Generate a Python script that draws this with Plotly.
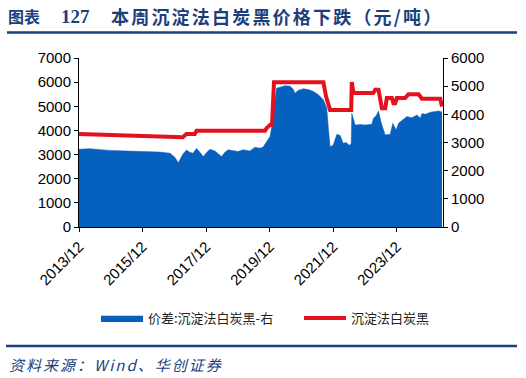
import plotly.graph_objects as go

# ---- data ----
price_dates = ["2013-12-01", "2017-03-08", "2017-04-20", "2017-07-25", "2017-08-14",
               "2019-10-11", "2019-10-30", "2019-12-07", "2019-12-30", "2020-01-22",
               "2021-08-12", "2021-09-12", "2021-10-28", "2022-06-28", "2022-07-05",
               "2022-07-24", "2023-03-08", "2023-03-31", "2023-05-08", "2023-05-27",
               "2023-06-16", "2023-07-24", "2023-08-12", "2023-10-09", "2023-10-27",
               "2023-11-16", "2023-12-05", "2024-03-10", "2024-04-17", "2024-08-11",
               "2024-09-19", "2025-04-17", "2025-05-07"]
price_values = [3850, 3720, 3850, 3850, 3990,
                3990, 4100, 4230, 4230, 6000,
                6000, 5400, 4850, 4850, 6000,
                5550, 5550, 5680, 5680, 5300,
                4920, 4920, 5340, 5340, 5130,
                5130, 5340, 5340, 5500, 5500,
                5310, 5310, 4990]

spread_dates = ["2013-12-01", "2014-04-03", "2014-11-19", "2015-07-07", "2016-02-23",
                "2016-06-18", "2016-10-12", "2016-12-08", "2017-01-15", "2017-02-15",
                "2017-03-13", "2017-04-20", "2017-05-30", "2017-07-03", "2017-08-14",
                "2017-09-22", "2017-10-30", "2017-12-11", "2018-01-15", "2018-03-13",
                "2018-04-28", "2018-05-29", "2018-07-06", "2018-08-13", "2018-10-29",
                "2018-12-03", "2019-02-02", "2019-04-20", "2019-06-17", "2019-08-13",
                "2019-09-17", "2019-10-30", "2019-12-07", "2019-12-30", "2020-01-22",
                "2020-02-22", "2020-05-28", "2020-07-25", "2020-08-28", "2020-09-20",
                "2020-10-25", "2020-12-25", "2021-02-18", "2021-04-20", "2021-06-13",
                "2021-08-12", "2021-09-20", "2021-10-09", "2021-10-28", "2021-12-02",
                "2021-12-25", "2022-01-14", "2022-02-21", "2022-03-27", "2022-05-01",
                "2022-06-05", "2022-06-28", "2022-07-05", "2022-08-12", "2022-10-09",
                "2022-12-05", "2023-02-21", "2023-03-11", "2023-04-11", "2023-05-08",
                "2023-06-08", "2023-07-24", "2023-09-19", "2023-10-20", "2023-11-27",
                "2023-12-24", "2024-02-05", "2024-03-30", "2024-05-27", "2024-07-24",
                "2024-08-31", "2024-09-19", "2024-10-27", "2024-12-24", "2025-02-20",
                "2025-03-30", "2025-05-07"]
spread_values = [2760, 2780, 2720, 2700, 2690,
                 2660, 2620, 2480, 2280, 2450,
                 2600, 2730, 2650, 2620, 2790,
                 2650, 2500, 2650, 2760, 2700,
                 2600, 2500, 2650, 2740, 2700,
                 2680, 2740, 2700, 2830, 2800,
                 2830, 3030, 3210, 3600, 4300,
                 4930, 5015, 5000, 4900, 4750,
                 4850, 4907, 4880, 4810, 4700,
                 4515, 4220, 3500, 2850, 2900,
                 3150, 3290, 3250, 2970, 3000,
                 2900, 2950, 4040, 3620, 3640,
                 3620, 3650, 3860, 3950, 4120,
                 3700, 3270, 3290, 3680, 3445,
                 3680, 3800, 3920, 3880, 3980,
                 3860, 4030, 4000, 4075, 4100,
                 4120, 4080]

tick_dates = ["2013-12-01", "2015-12-01", "2017-12-01", "2019-12-01", "2021-12-01", "2023-12-01"]
tick_labels = ["2013/12", "2015/12", "2017/12", "2019/12", "2021/12", "2023/12"]

title_prefix = "图表"
title_number = "127"
title_text = "本周沉淀法白炭黑价格下跌（元/吨）"
source_text = "资料来源：Wind、华创证券"
spread_name = "价差:沉淀法白炭黑-右"
price_name = "沉淀法白炭黑"

BLUE = "#0660BD"
RED = "#E3121C"
NAVY = "#1C3F7C"

W, H = 526, 378
L, R, T, B = 79, 83, 58, 151
PW, PH = W - L - R, H - T - B


def px(x):
    return (x - L) / PW


def py(y):
    return (H - B - y) / PH


fig = go.Figure()
fig.add_trace(go.Scatter(
    x=spread_dates, y=spread_values, name=spread_name, mode="lines",
    line=dict(width=0.5, color=BLUE), fill="tozeroy", fillcolor=BLUE,
    yaxis="y", hoverinfo="skip", legend="legend"))
fig.add_trace(go.Scatter(
    x=price_dates, y=price_values, name=price_name, mode="lines",
    line=dict(width=4, color=RED), yaxis="y2", hoverinfo="skip", legend="legend2"))

axis_font = dict(family="Liberation Sans, Arial, sans-serif", size=15, color="#000")
legend_font = dict(family="Noto Sans CJK SC", size=13, color="#222")

fig.update_layout(
    width=W, height=H,
    margin=dict(l=L, r=R, t=T, b=B, pad=0),
    paper_bgcolor="white", plot_bgcolor="white",
    showlegend=True,
    legend=dict(orientation="h", x=px(96), y=py(318), xanchor="left", yanchor="middle",
                font=legend_font, itemwidth=42, bgcolor="rgba(0,0,0,0)"),
    legend2=dict(orientation="h", x=px(299), y=py(318), xanchor="left", yanchor="middle",
                 font=legend_font, itemwidth=42, bgcolor="rgba(0,0,0,0)"),
    xaxis=dict(type="date", range=["2013-12-01", "2025-05-19"],
               tickvals=tick_dates, ticktext=tick_labels, tickangle=-45,
               ticks="outside", ticklen=4, tickcolor="#000",
               showline=True, linecolor="#000", linewidth=1,
               showgrid=False, zeroline=False, tickfont=axis_font),
    yaxis=dict(range=[0, 6000], dtick=1000, side="right",
               ticks="outside", ticklen=4, tickcolor="#000",
               showline=True, linecolor="#000", linewidth=1,
               showgrid=False, zeroline=False, tickfont=axis_font),
    yaxis2=dict(range=[0, 7000], dtick=1000, side="left", overlaying="y",
                ticks="outside", ticklen=4, tickcolor="#000",
                showline=True, linecolor="#000", linewidth=1,
                showgrid=False, zeroline=False, tickfont=axis_font),
)

# title
fig.add_annotation(text="<b>" + title_prefix + "</b>", xref="paper", yref="paper",
                   x=px(6), y=py(16), xanchor="left", yanchor="middle", showarrow=False,
                   font=dict(family="Noto Sans CJK SC", size=16, color=NAVY))
fig.add_annotation(text="<b>" + title_number + "</b>", xref="paper", yref="paper",
                   x=px(59), y=py(16), xanchor="left", yanchor="middle", showarrow=False,
                   font=dict(family="Liberation Serif, serif", size=19, color=NAVY))
fig.add_annotation(text='<span style="letter-spacing:2.2px"><b>' + title_text + "</b></span>",
                   xref="paper", yref="paper",
                   x=px(109), y=py(16), xanchor="left", yanchor="middle", showarrow=False,
                   font=dict(family="Noto Sans CJK SC", size=18, color=NAVY))
fig.add_shape(type="line", xref="paper", yref="paper", x0=px(7), x1=px(517),
              y0=py(32.5), y1=py(32.5), line=dict(color=NAVY, width=2.5))

# source
fig.add_shape(type="line", xref="paper", yref="paper", x0=px(6), x1=px(517),
              y0=py(346), y1=py(346), line=dict(color=NAVY, width=2.5))
fig.add_annotation(text='<span style="letter-spacing:2px"><i>' + source_text + "</i></span>",
                   xref="paper", yref="paper",
                   x=px(7), y=py(364), xanchor="left", yanchor="middle", showarrow=False,
                   font=dict(family="Noto Sans CJK SC", size=15, color=NAVY))

fig.write_html("out.html")
